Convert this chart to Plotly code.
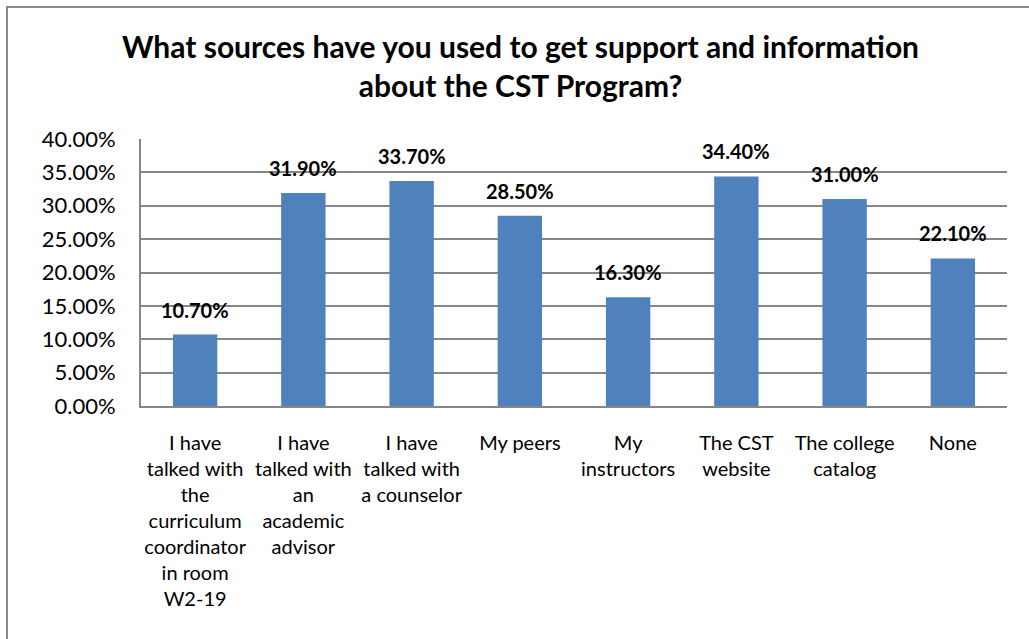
import plotly.graph_objects as go

categories = [
    "I have<br>talked with<br>the<br>curriculum<br>coordinator<br>in room<br>W2-19",
    "I have<br>talked with<br>an<br>academic<br>advisor",
    "I have<br>talked with<br>a counselor",
    "My peers",
    "My<br>instructors",
    "The CST<br>website",
    "The college<br>catalog",
    "None",
]
values = [0.107, 0.319, 0.337, 0.285, 0.163, 0.344, 0.310, 0.221]
y_ticks = [0, 0.05, 0.10, 0.15, 0.20, 0.25, 0.30, 0.35, 0.40]

title_text = ("What sources have you used to get support and information"
              "<br>about the CST Program?")

W, H = 1029, 639
L, R, T, B = 141, 22, 139, 233
pw, ph = W - L - R, H - T - B

def px_x(x):
    return (x - L) / pw

def px_y(y):
    return (H - B - y) / ph

FONT = "Lato, Calibri, Carlito, sans-serif"
BAR = "#4F81BD"
GRID = "#868686"

fig = go.Figure(go.Bar(
    x=categories,
    y=values,
    marker=dict(color=BAR, line=dict(width=0)),
    hoverinfo="x+y",
))

# value labels above each bar
for cat, v in zip(categories, values):
    fig.add_annotation(
        x=cat, y=v, xref="x", yref="y",
        text=f"{v*100:.2f}%", showarrow=False,
        xanchor="center", yanchor="middle", yshift=25,
        font=dict(family=FONT, size=20, color="black", weight="bold"),
    )

fig.update_layout(
    width=W, height=H,
    margin=dict(l=L, r=R, t=T, b=B),
    paper_bgcolor="white",
    plot_bgcolor="white",
    bargap=0.59,
    showlegend=False,
    font=dict(family=FONT, color="black"),
)

fig.update_xaxes(
    showline=True, linecolor=GRID, linewidth=2,
    showgrid=False, ticks="", tickangle=0,
    ticklabelstandoff=18,
    tickfont=dict(family=FONT, size=20, color="black"),
)
fig.update_yaxes(
    range=[0, 0.40], tickvals=y_ticks, tickformat=".2%",
    showline=True, linecolor=GRID, linewidth=2,
    showgrid=True, gridcolor=GRID, gridwidth=1.5,
    ticks="", ticklabelstandoff=19,
    tickfont=dict(family=FONT, size=22, color="black"),
    zeroline=False,
)

fig.add_annotation(
    text=title_text, xref="paper", yref="paper",
    x=px_x(520), y=px_y(26), xanchor="center", yanchor="top",
    showarrow=False, align="center",
    font=dict(family=FONT, size=30, color="black", weight="bold"),
)

fig.add_shape(
    type="rect", xref="paper", yref="paper",
    x0=px_x(7), x1=px_x(W + 20), y0=px_y(7), y1=px_y(H + 20),
    line=dict(color="#898989", width=2), fillcolor="rgba(0,0,0,0)",
    layer="below",
)

fig.write_html("out.html")
